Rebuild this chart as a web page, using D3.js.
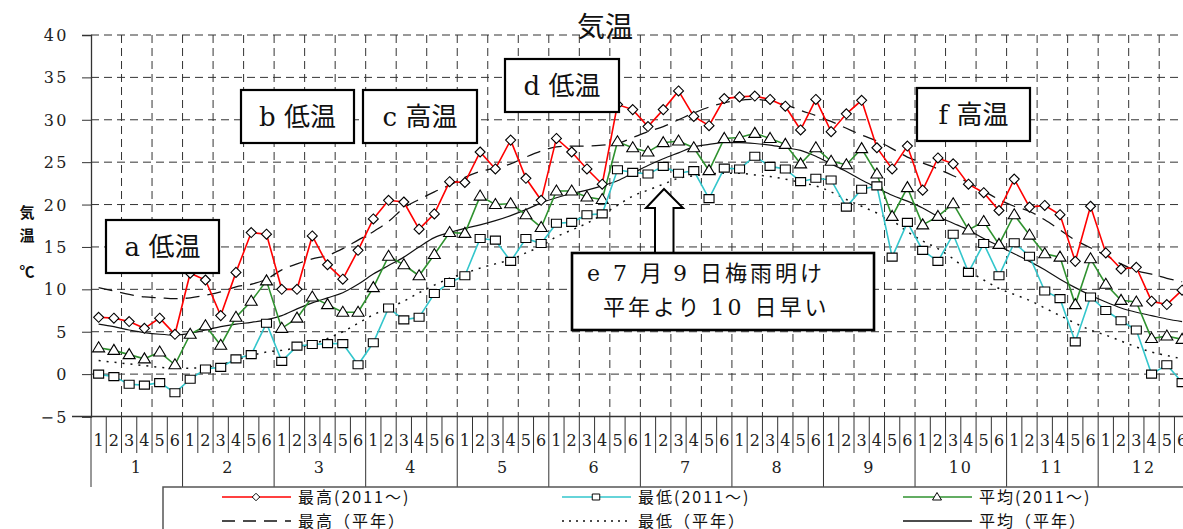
<!DOCTYPE html>
<html><head><meta charset="utf-8">
<script src="https://cdn.jsdelivr.net/npm/d3@7"></script>
<style>
html,body{margin:0;padding:0;background:#fff;}
svg{display:block;}
</style></head>
<body>
<svg id="c" width="1183" height="529"></svg>
<script>
// ---- data ----
const months = ["1","2","3","4","5","6","7","8","9","10","11","12"];
const periods = ["1","2","3","4","5","6"];
const yTicks = [-5,0,5,10,15,20,25,30,35,40];
const maxT = [6.7,6.6,6.2,5.4,6.6,4.7, 11.9,11.1,6.9,12.0,16.7,16.5, 10.0,10.0,16.3,12.9,11.2,14.6,
  18.3,20.5,20.3,17.1,18.9,22.7, 22.6,26.2,24.2,27.6,23.1,20.5, 27.8,26.2,24.2,22.4,31.8,31.2,
  29.2,31.2,33.4,30.4,29.3,32.5, 32.7,32.8,32.4,31.6,28.8,32.4, 28.6,30.7,32.3,26.7,24.2,26.9,
  21.7,25.5,24.8,22.4,21.4,19.3, 23.0,19.7,19.9,18.8,13.3,19.8, 14.3,12.4,12.6,8.6,8.2,9.9];
const minT = [0.0,-0.3,-1.2,-1.3,-1.0,-2.2, -0.6,0.6,0.8,1.8,2.3,6.0, 1.5,3.3,3.5,3.6,3.6,1.1,
  3.7,7.8,6.4,6.7,9.5,10.8, 11.6,16.0,15.8,13.3,16.0,15.4, 17.8,17.9,18.8,18.9,24.1,23.8,
  23.6,24.5,23.7,24.0,20.7,24.3, 24.2,25.7,24.5,24.2,22.7,23.1, 22.9,19.7,21.8,22.2,13.8,17.9,
  14.6,13.3,16.5,12.0,15.4,11.6, 15.5,13.9,9.8,8.9,3.8,9.1, 7.5,6.3,5.2,0.0,1.1,-1.0];
const avgT = [3.1,2.8,2.3,1.8,2.6,1.1, 4.7,5.7,3.4,6.7,8.6,11.0, 5.4,6.6,9.1,8.2,7.3,7.3,
  10.2,13.9,12.9,11.6,14.1,16.7, 16.6,21.0,20.0,20.1,18.8,17.3, 21.6,21.6,20.9,20.6,27.4,26.7,
  26.2,27.3,27.5,26.7,24.0,27.8, 27.9,28.4,27.8,27.1,24.8,26.7, 25.1,24.7,26.6,23.6,18.6,22.0,
  17.6,18.6,20.1,17.0,18.0,15.3, 18.8,16.4,14.2,13.8,8.2,13.6, 10.6,8.7,8.5,4.2,4.5,4.1];
const normMax = [10.2,9.8,9.4,9.1,9.0,8.9, 9.0,9.3,9.7,10.3,10.6,11.2, 12.3,13.0,13.6,14.0,14.8,15.8,
  16.8,18.0,19.6,20.6,21.5,22.3, 23.2,23.9,24.3,24.8,25.6,26.3, 26.8,26.9,26.9,27.0,27.2,27.9,
  28.6,29.2,30.0,30.8,31.5,32.0, 32.3,32.4,32.2,31.8,31.1,30.5, 29.8,29.0,28.2,27.5,26.6,25.6,
  24.9,24.2,23.4,22.6,21.6,20.6, 19.8,19.2,18.2,17.0,15.8,14.9, 14.0,13.0,12.2,11.8,11.3,10.9];
const normMin = [1.6,1.4,1.2,1.0,0.8,0.7, 0.7,0.8,1.1,1.7,2.2,2.6, 2.8,3.1,3.5,4.2,5.0,6.0,
  7.0,7.8,8.6,9.6,10.5,11.3, 11.9,12.5,13.0,13.5,14.3,15.1, 16.2,17.0,17.8,18.8,19.9,21.0,
  21.7,22.4,23.1,23.4,23.6,23.7, 23.7,23.5,23.3,23.0,22.6,22.2, 21.5,20.6,19.8,19.0,18.1,16.8,
  15.7,14.8,13.6,12.2,11.1,10.1, 9.4,8.7,7.8,6.9,6.0,5.2, 4.6,3.9,3.2,2.6,2.2,1.8];
const normAvg = [5.9,5.6,5.2,4.9,4.7,4.6, 4.8,5.2,5.6,5.9,6.1,6.4, 6.9,7.7,8.4,9.0,9.6,10.6,
  11.8,12.8,13.8,15.0,16.1,16.7, 17.2,17.6,18.1,18.7,19.4,20.2, 20.8,21.3,21.7,22.2,22.8,23.7,
  24.6,25.4,26.1,26.8,27.1,27.3, 27.3,27.2,27.0,26.7,26.4,25.7, 24.8,23.9,22.9,22.0,21.1,20.4,
  19.6,18.6,17.8,17.0,16.0,15.1, 14.2,13.3,12.3,11.2,10.2,9.3, 8.5,7.8,7.3,6.9,6.5,6.2];
const seriesNames = ["最高(2011～)","最低(2011～)","平均(2011～)","最高（平年）","最低（平年）","平均（平年）"];

// ---- layout ----
const svg = d3.select("#c");
const L = 91, slot = 15.26, N = 72;
const x = d3.scaleBand().domain(d3.range(N)).range([L, L + N*slot]).padding(0);
const y = d3.scaleLinear().domain([-5,40]).range([416.5, 35]);
const cx = i => x(i) + x.bandwidth()/2;
const serif = "'DejaVu Serif','Liberation Serif',serif";
const jp = "'Noto Sans CJK JP','Noto Sans',sans-serif";

// gridlines
const grid = svg.append("g").attr("stroke","#333").attr("stroke-width",1).attr("stroke-dasharray","8,5");
yTicks.filter(v=>v>-5).forEach(v=>{
  grid.append("line").attr("x1",L).attr("x2",1183).attr("y1",y(v)).attr("y2",y(v));
});
for(let k=2;k<N;k+=2){
  grid.append("line").attr("x1",x(k)).attr("x2",x(k)).attr("y1",y(40)).attr("y2",y(-5));
}

// y axis
const yAxis = d3.axisLeft(y).tickValues(yTicks).tickSize(9).tickPadding(13)
  .tickFormat(v => v<0 ? "−"+Math.abs(v) : String(v));
const ga = svg.append("g").attr("transform",`translate(${L},0)`).call(yAxis);
ga.select(".domain").attr("stroke","#333").attr("stroke-width",1.3);
ga.selectAll(".tick line").attr("stroke","#333");
ga.selectAll(".tick text").attr("font-family",serif).attr("font-size",16).attr("fill","#222")
  .attr("letter-spacing","2.5px").attr("dy","0.35em");

// x axis line
svg.append("line").attr("x1",72).attr("x2",1183).attr("y1",y(-5)).attr("y2",y(-5))
  .attr("stroke","#333").attr("stroke-width",1.3);
const xa = svg.append("g");
d3.range(N).forEach(i=>{
  const isMonth = i%6===0;
  xa.append("line").attr("x1",x(i)).attr("x2",x(i)).attr("y1",y(-5)).attr("y2", isMonth?487:453)
    .attr("stroke","#333").attr("stroke-width",1);
  xa.append("text").attr("x",cx(i)).attr("y",446).attr("text-anchor","middle")
    .attr("font-family",serif).attr("font-size",16).attr("fill","#222").text(periods[i%6]);
});
months.forEach((m,j)=>{
  const xm = x(j*6) + 3*slot;
  xa.append("text").attr("x",xm).attr("y",473).attr("text-anchor","middle")
    .attr("font-family",serif).attr("font-size",16).attr("fill","#222").attr("letter-spacing","2px").text(m);
});

// normal curves
const curveLine = d3.line().x((d,i)=>cx(i)).y(d=>y(d)).curve(d3.curveMonotoneX);
svg.append("path").attr("d",curveLine(normMax)).attr("fill","none").attr("stroke","#111")
  .attr("stroke-width",1.3).attr("stroke-dasharray","14,8");
svg.append("path").attr("d",curveLine(normMin)).attr("fill","none").attr("stroke","#111")
  .attr("stroke-width",1.5).attr("stroke-dasharray","2,6");
svg.append("path").attr("d",curveLine(normAvg)).attr("fill","none").attr("stroke","#111")
  .attr("stroke-width",1.2);

// observed series
const straight = d3.line().x((d,i)=>cx(i)).y(d=>y(d));
const cols = {max:"#ff0000", min:"#33c6cc", avg:"#2f922f"};
const diamond = "M0,-5L5,0L0,5L-5,0Z";
const square = "M-5,-4H5V4H-5Z";
const tri = "M0,-6L6,4H-6Z";
function drawSeries(data,color,shape){
  svg.append("path").attr("d",straight(data)).attr("fill","none").attr("stroke",color).attr("stroke-width",1.6);
  svg.append("g").selectAll("path").data(data).join("path")
    .attr("transform",(d,i)=>`translate(${cx(i)},${y(d)})`).attr("d",shape)
    .attr("fill","#fff").attr("stroke","#000").attr("stroke-width",1.1);
}
drawSeries(avgT,cols.avg,tri);
drawSeries(minT,cols.min,square);
drawSeries(maxT,cols.max,diamond);

// title & y label
svg.append("text").attr("x",605).attr("y",37).attr("text-anchor","middle")
  .attr("font-family",jp).attr("font-size",28).attr("fill","#111").text("気温");
[["気",218],["温",241],["℃",277]].forEach(([t,yy])=>{
  svg.append("text").attr("x",27).attr("y",yy).attr("text-anchor","middle")
    .attr("font-family",jp).attr("font-weight","bold").attr("font-size",15).attr("fill","#111").text(t);
});

// annotation boxes
const boxes = [
  {x:106,y:220,w:113,h:53,t:["a","低温"]},
  {x:241,y:90,w:113,h:53,t:["b","低温"]},
  {x:363,y:90,w:114,h:53,t:["c","高温"]},
  {x:505,y:59,w:114,h:53,t:["d","低温"]},
  {x:917,y:88,w:113,h:53,t:["f","高温"]}
];
boxes.forEach(b=>{
  svg.append("rect").attr("x",b.x).attr("y",b.y).attr("width",b.w).attr("height",b.h)
    .attr("fill","#fff").attr("stroke","#000").attr("stroke-width",2.2);
  const t = svg.append("text").attr("x",b.x+b.w/2).attr("y",b.y+b.h/2+9).attr("text-anchor","middle")
    .attr("font-size",26).attr("fill","#111");
  t.append("tspan").attr("font-family",serif).text(b.t[0]+" ");
  t.append("tspan").attr("font-family",jp).text(b.t[1]);
});
// arrow
svg.append("path").attr("d","M664,189 L683,208 L673.5,208 L673.5,254 L655,254 L655,208 L646,208 Z")
  .attr("fill","#fff").attr("stroke","#000").attr("stroke-width",2);
svg.append("rect").attr("x",572).attr("y",253).attr("width",302).attr("height",77)
  .attr("fill","#fff").attr("stroke","#000").attr("stroke-width",2.6);
const e1 = svg.append("text").attr("x",587).attr("y",281).attr("font-size",22).attr("fill","#111")
  .attr("font-family",jp).attr("letter-spacing","3px");
e1.append("tspan").attr("font-family",serif).text("e 7 ");
e1.append("tspan").text("月 ");
e1.append("tspan").attr("font-family",serif).text("9 ");
e1.append("tspan").text("日梅雨明け");
const e2 = svg.append("text").attr("x",603).attr("y",315).attr("font-size",22).attr("fill","#111")
  .attr("font-family",jp).attr("letter-spacing","3px");
e2.append("tspan").text("平年より ");
e2.append("tspan").attr("font-family",serif).text("10 ");
e2.append("tspan").text("日早い");

// legend
svg.append("rect").attr("x",163).attr("y",487).attr("width",1040).attr("height",60)
  .attr("fill","#fff").attr("stroke","#555").attr("stroke-width",1.5);
const leg = [
  {x:222,y:497,c:cols.max,m:diamond,dash:null},
  {x:562,y:497,c:cols.min,m:square,dash:null},
  {x:903,y:497,c:cols.avg,m:tri,dash:null},
  {x:222,y:521,c:"#111",m:null,dash:"13,8"},
  {x:562,y:521,c:"#111",m:null,dash:"2,5"},
  {x:903,y:521,c:"#111",m:null,dash:null}
];
leg.forEach((l,i)=>{
  svg.append("line").attr("x1",l.x).attr("x2",l.x+69).attr("y1",l.y).attr("y2",l.y)
    .attr("stroke",l.c).attr("stroke-width",1.4).attr("stroke-dasharray",l.dash);
  if(l.m) svg.append("path").attr("d",l.m).attr("transform",`translate(${l.x+34},${l.y}) scale(0.75)`)
    .attr("fill","#fff").attr("stroke","#000").attr("stroke-width",1.3);
  svg.append("text").attr("x",l.x+76).attr("y",l.y+6).attr("font-family",jp).attr("font-size",16)
    .attr("letter-spacing","2px").attr("fill","#111").text(seriesNames[i]);
});
</script>
</body></html>
